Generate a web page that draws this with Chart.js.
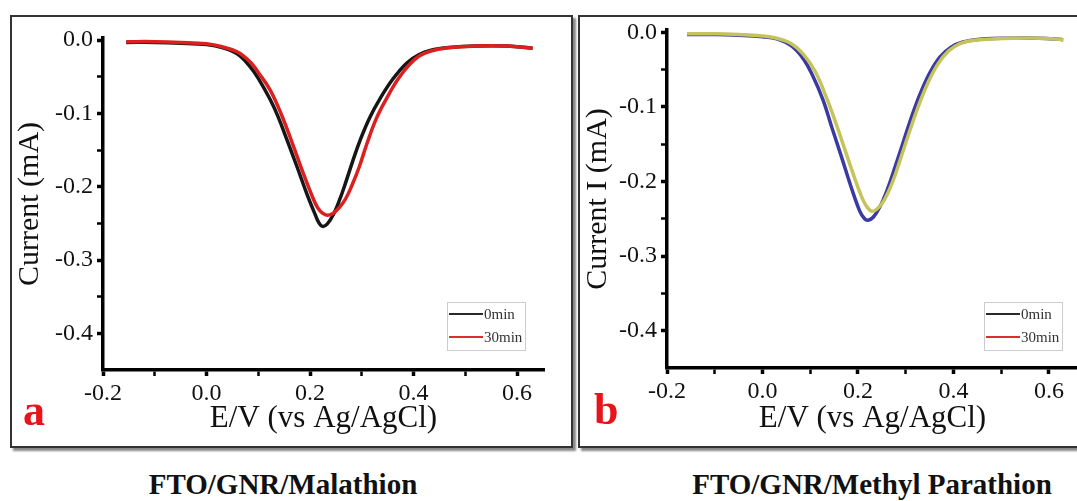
<!DOCTYPE html>
<html>
<head>
<meta charset="utf-8">
<script src="https://cdn.jsdelivr.net/npm/chart.js@4.4.1/dist/chart.umd.min.js"></script>
<style>
  html, body { margin: 0; padding: 0; background: #fff; }
  body { width: 1077px; height: 501px; overflow: hidden; position: relative; font-family: "Liberation Serif", serif; }
  .frame { position: absolute; top: 15px; height: 429px; border: 2px solid #333; box-shadow: 3px 3px 2px #888; }
  #frameA { left: 10px; width: 559px; }
  #frameB { left: 578px; width: 620px; }
  canvas { position: absolute; top: 0; }
  #chartA { left: 0; }
  #chartB { left: 575px; }
  .tag { position: absolute; font: bold 44px/44px "Liberation Serif", serif; color: #e8141c; }
  .caption { position: absolute; top: 470px; font: bold 29px/29px "Liberation Serif", serif; color: #111; white-space: nowrap; transform: translateX(-50%); }
</style>
</head>
<body>
<div class="frame" id="frameA"></div>
<div class="frame" id="frameB"></div>
<canvas id="chartA" width="575" height="450"></canvas>
<canvas id="chartB" width="525" height="450"></canvas>
<div class="tag" style="left:23px; top:389px;">a</div>
<div class="tag" style="left:594px; top:388px;">b</div>
<div class="caption" style="left:283px;">FTO/GNR/Malathion</div>
<div class="caption" style="left:872px;">FTO/GNR/Methyl Parathion</div>
<script>
// Malathion, 0 min: potential (V) and current (mA)
const malE0 = [-0.155, -0.10, -0.05, 0.00, 0.03, 0.06, 0.084, 0.10, 0.123, 0.138, 0.156, 0.175, 0.194, 0.21, 0.217, 0.224, 0.233, 0.245, 0.257, 0.268, 0.282, 0.297, 0.315, 0.335, 0.36, 0.387, 0.41, 0.432, 0.47, 0.52, 0.58, 0.63];
const malI0 = [-0.003, -0.003, -0.004, -0.006, -0.010, -0.019, -0.036, -0.052, -0.081, -0.104, -0.137, -0.173, -0.210, -0.238, -0.249, -0.254, -0.251, -0.238, -0.218, -0.196, -0.166, -0.136, -0.106, -0.080, -0.053, -0.031, -0.020, -0.014, -0.010, -0.008, -0.008, -0.011];

// Malathion, 30 min
const malE30 = [-0.155, -0.10, -0.05, 0.00, 0.03, 0.06, 0.085, 0.10, 0.123, 0.145, 0.165, 0.185, 0.206, 0.215, 0.224, 0.233, 0.245, 0.257, 0.269, 0.281, 0.295, 0.31, 0.328, 0.349, 0.37, 0.39, 0.41, 0.432, 0.47, 0.52, 0.58, 0.63];
const malI30 = [-0.002, -0.002, -0.003, -0.005, -0.009, -0.016, -0.030, -0.044, -0.068, -0.102, -0.139, -0.178, -0.216, -0.229, -0.236, -0.239, -0.236, -0.228, -0.216, -0.198, -0.173, -0.141, -0.107, -0.078, -0.053, -0.035, -0.022, -0.015, -0.010, -0.008, -0.008, -0.011];

// Methyl parathion, 0 min
const mpE0 = [-0.158, -0.10, -0.05, 0.00, 0.03, 0.06, 0.085, 0.105, 0.127, 0.145, 0.165, 0.185, 0.204, 0.214, 0.221, 0.232, 0.246, 0.262, 0.278, 0.295, 0.312, 0.33, 0.35, 0.372, 0.395, 0.42, 0.46, 0.52, 0.58, 0.63];
const mpI0 = [-0.003, -0.003, -0.004, -0.006, -0.009, -0.018, -0.035, -0.058, -0.091, -0.127, -0.166, -0.206, -0.240, -0.250, -0.252, -0.248, -0.234, -0.210, -0.180, -0.147, -0.114, -0.083, -0.055, -0.033, -0.020, -0.013, -0.009, -0.008, -0.008, -0.010];

// Methyl parathion, 30 min
const mpE30 = [-0.158, -0.10, -0.05, 0.00, 0.03, 0.06, 0.085, 0.11, 0.135, 0.155, 0.173, 0.195, 0.21, 0.22, 0.229, 0.24, 0.255, 0.273, 0.29, 0.307, 0.325, 0.345, 0.367, 0.39, 0.415, 0.44, 0.48, 0.53, 0.58, 0.63];
const mpI30 = [-0.002, -0.002, -0.003, -0.005, -0.008, -0.015, -0.029, -0.052, -0.089, -0.124, -0.158, -0.199, -0.224, -0.235, -0.240, -0.237, -0.225, -0.200, -0.168, -0.135, -0.102, -0.070, -0.043, -0.025, -0.015, -0.011, -0.009, -0.008, -0.008, -0.010];

// Axis ticks (majors get labels, the rest are minor marks)
const xTicks = [-0.2, -0.1, 0.0, 0.1, 0.2, 0.3, 0.4, 0.5, 0.6];
const xMajor = [-0.2, 0.0, 0.2, 0.4, 0.6];
const yTicks = [0.0, -0.05, -0.1, -0.15, -0.2, -0.25, -0.3, -0.35, -0.4];
const yMajor = [0.0, -0.1, -0.2, -0.3, -0.4];

const serif = '"Liberation Serif", "Times New Roman", serif';
const isMajor = (list, v) => list.some(m => Math.abs(m - v) < 1e-9);
const pts = (xs, ys) => xs.map((x, i) => ({ x: x, y: ys[i] }));

// small boxed legend in the lower right corner of the plot
const insetLegend = {
    id: 'insetLegend',
    afterDraw(chart, args, opts) {
        const { ctx, chartArea } = chart;
        const left = chartArea.right - opts.right - opts.width;
        const top = chartArea.bottom - opts.bottom - opts.height;
        ctx.save();
        ctx.strokeStyle = '#cccccc';
        ctx.lineWidth = 1;
        ctx.strokeRect(left + 0.5, top + 0.5, opts.width, opts.height);
        ctx.font = '15px ' + serif;
        ctx.textBaseline = 'middle';
        chart.data.datasets.forEach((ds, i) => {
            const y = top + 12 + i * 23;
            ctx.strokeStyle = ds.legendColor;
            ctx.lineWidth = 2.2;
            ctx.beginPath();
            ctx.moveTo(left + 2, y);
            ctx.lineTo(left + 36, y);
            ctx.stroke();
            ctx.fillStyle = '#333';
            ctx.fillText(ds.label, left + 37, y + 1);
        });
        ctx.restore();
    }
};

function line(label, data, color, legendColor, order) {
    return {
        label: label,
        data: data,
        showLine: true,
        borderColor: color,
        borderWidth: 3.5,
        pointRadius: 0,
        tension: 0.4,
        legendColor: legendColor,
        order: order
    };
}

function makePanel(id, datasets, yTitle, geo) {
    return new Chart(document.getElementById(id), {
        type: 'scatter',
        data: { datasets: datasets },
        options: {
            responsive: false,
            animation: false,
            layout: { padding: { top: geo.top, right: geo.right, left: 0, bottom: 0 } },
            plugins: {
                legend: { display: false },
                tooltip: { enabled: false },
                insetLegend: geo.legend
            },
            scales: {
                x: {
                    type: 'linear',
                    min: -0.2,
                    max: geo.xMax,
                    afterFit: s => { s.height = geo.xHeight; },
                    afterBuildTicks: s => { s.ticks = xTicks.map(v => ({ value: v })); },
                    ticks: {
                        callback: v => isMajor(xMajor, v) ? v.toFixed(1) : '',
                        font: { family: serif, size: 24 },
                        color: '#111',
                        padding: 3,
                        autoSkip: false,
                        maxRotation: 0
                    },
                    grid: {
                        drawOnChartArea: false,
                        tickLength: 6,
                        tickColor: '#000',
                        tickWidth: c => isMajor(xMajor, c.tick.value) ? 3.5 : 2.5
                    },
                    border: { display: true, color: '#000', width: 3.5 },
                    title: {
                        display: true,
                        text: 'E/V (vs Ag/AgCl)',
                        font: { family: serif, size: 31 },
                        color: '#111',
                        padding: { top: 0, bottom: 13 }
                    }
                },
                y: {
                    type: 'linear',
                    min: -0.45,
                    max: 0.003,
                    afterFit: s => { s.width = geo.yWidth; },
                    afterBuildTicks: s => { s.ticks = yTicks.map(v => ({ value: v })); },
                    ticks: {
                        callback: v => isMajor(yMajor, v) ? v.toFixed(1) : '',
                        font: { family: serif, size: 24 },
                        color: '#111',
                        padding: 4,
                        autoSkip: false
                    },
                    grid: {
                        drawOnChartArea: false,
                        tickLength: 6,
                        tickColor: '#000',
                        tickWidth: c => isMajor(yMajor, c.tick.value) ? 3.5 : 2.5
                    },
                    border: { display: true, color: '#000', width: 3.5 },
                    title: {
                        display: true,
                        text: yTitle,
                        font: { family: serif, size: 30 },
                        color: '#111',
                        padding: { top: geo.yTitlePad, bottom: 0 }
                    }
                }
            }
        },
        plugins: [insetLegend]
    });
}

makePanel('chartA', [
    line('0min', pts(malE0, malI0), '#161616', '#2a2a2a', 1),
    line('30min', pts(malE30, malI30), '#dc1f1f', '#d83030', 0)
], 'Current (mA)', {
    top: 38, right: 31, xHeight: 80, yWidth: 103, xMax: 0.652, yTitlePad: 12,
    legend: { right: 19, bottom: 20, width: 78, height: 48 }
});

makePanel('chartB', [
    line('0min', pts(mpE0, mpI0), '#3a3aa2', '#2a2a2a', 1),
    line('30min', pts(mpE30, mpI30), '#c4c45a', '#d83030', 0)
], 'Current I (mA)', {
    top: 30, right: 22, xHeight: 82, yWidth: 92, xMax: 0.661, yTitlePad: 5,
    legend: { right: 16, bottom: 18, width: 78, height: 48 }
});
</script>
</body>
</html>
